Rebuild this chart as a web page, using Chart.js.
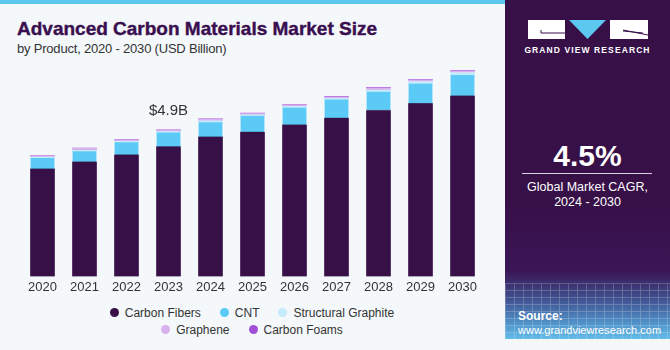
<!DOCTYPE html>
<html>
<head>
<meta charset="utf-8">
<script src="https://cdn.jsdelivr.net/npm/chart.js@4/dist/chart.umd.min.js"></script>
<style>
  html, body { margin:0; padding:0; }
  body { width:670px; height:350px; position:relative; overflow:hidden; background:#f4f8fb; font-family:"Liberation Sans", Arial, sans-serif; }
  #topstrip { position:absolute; left:0; top:0; width:506px; height:4px; background:#5cc7ef; }
  #title { position:absolute; left:17px; top:18px; font-family:"Liberation Sans", Arial, sans-serif; font-weight:bold; font-size:19px; color:#3a0f4f; white-space:nowrap; -webkit-text-stroke:0.4px #3a0f4f; }
  #subtitle { position:absolute; left:17px; top:41px; font-size:13px; letter-spacing:-0.2px; color:#333; white-space:nowrap; }
  #chartwrap { position:absolute; left:0; top:42px; width:505px; height:256px; }
  #legend { position:absolute; left:102px; top:305px; width:300px; display:flex; flex-wrap:wrap; justify-content:center; row-gap:2px; column-gap:19px; font-size:12px; color:#333; }
  .li { display:flex; align-items:center; height:15px; white-space:nowrap; }
  .dot { width:9px; height:9px; border-radius:50%; margin-right:6px; }
  #panel { position:absolute; left:505px; top:0; width:165px; height:339px; background:linear-gradient(to bottom, #381048 0%, #381048 60%, #3a1656 80%, #3f4f8e 88%, #4f8fc6 95%, #62bde8 100%); overflow:hidden; }
  #grid { position:absolute; left:0; top:283px; width:165px; height:56px; opacity:0.25;
    background-image: repeating-linear-gradient(to right, rgba(255,255,255,0.8) 0 1px, transparent 1px 9px), repeating-linear-gradient(to bottom, rgba(255,255,255,0.8) 0 1px, transparent 1px 7px); }
  #gvrtxt { position:absolute; left:0; width:165px; top:45px; text-align:center; color:#fff; font-weight:bold; font-size:8.5px; letter-spacing:1.1px; }
  #cagr { position:absolute; left:0; width:165px; top:139px; text-align:center; color:#fff; font-weight:bold; font-size:30px; }
  #line { position:absolute; left:17px; width:130px; top:173px; height:1px; background:#d8d0e0; }
  #cagrtxt { position:absolute; left:0; width:165px; top:180px; text-align:center; color:#fff; font-size:12.5px; line-height:15px; }
  #source { position:absolute; left:13px; top:309px; color:#fff; font-size:11px; line-height:14px; }
</style>
</head>
<body>
<div id="topstrip"></div>
<div id="title">Advanced Carbon Materials Market Size</div>
<div id="subtitle">by Product, 2020 - 2030 (USD Billion)</div>
<div id="chartwrap"><canvas id="c" width="505" height="256"></canvas></div>
<div id="legend"></div>
<div id="panel">
  <svg width="165" height="45" style="position:absolute;left:0;top:0">
    <rect x="23" y="20" width="37" height="19" fill="#fff"/>
    <path d="M36 30 L36 33 L60 33" stroke="#381048" stroke-width="1" fill="none"/>
    <polygon points="64,20 101,20 82.5,39" fill="#5cc7ef"/>
    <rect x="105" y="20" width="38" height="19" fill="#fff"/>
    <path d="M118 30 L143 35 M118 31 L138 33" stroke="#381048" stroke-width="1" fill="none"/>
  </svg>
  <div id="gvrtxt">GRAND VIEW RESEARCH</div>
  <div id="cagr">4.5%</div>
  <div id="line"></div>
  <div id="cagrtxt">Global Market CAGR,<br>2024 - 2030</div>
  <div id="grid"></div>
  <div id="source"><b style="font-size:12px">Source:</b><br>www.grandviewresearch.com</div>
</div>
<script>
const years = ['2020','2021','2022','2023','2024','2025','2026','2027','2028','2029','2030'];
const carbonFibers       = [3.59, 3.82, 4.06, 4.33, 4.66, 4.82, 5.06, 5.29, 5.55, 5.78, 6.03];
const cnt                = [0.37, 0.37, 0.43, 0.48, 0.50, 0.55, 0.59, 0.63, 0.63, 0.67, 0.71];
const structuralGraphite = [0.03, 0.03, 0.03, 0.03, 0.04, 0.03, 0.04, 0.04, 0.05, 0.07, 0.08];
const graphene           = [0.05, 0.06, 0.05, 0.05, 0.06, 0.05, 0.05, 0.05, 0.08, 0.05, 0.05];
const carbonFoams        = [0.01, 0.01, 0.01, 0.01, 0.01, 0.01, 0.01, 0.01, 0.01, 0.01, 0.01];
const annotatedYear = '2023';
const annotationText = '$4.9B';

const series = [
  {label:'Carbon Fibers', data:carbonFibers, color:'#381048'},
  {label:'CNT', data:cnt, color:'#5bcaf6'},
  {label:'Structural Graphite', data:structuralGraphite, color:'#c6ebfa'},
  {label:'Graphene', data:graphene, color:'#d8b0ee'},
  {label:'Carbon Foams', data:carbonFoams, color:'#a24fd8'}
];

const legend = document.getElementById('legend');
series.forEach(s => {
  const d = document.createElement('div'); d.className='li';
  d.innerHTML = '<span class="dot" style="background:'+s.color+'"></span>'+s.label;
  legend.appendChild(d);
});

const annotPlugin = {
  id:'annot',
  afterDatasetsDraw(chart){
    const idx = years.indexOf(annotatedYear);
    let total = 0;
    chart.data.datasets.forEach(ds => total += ds.data[idx]);
    const x = chart.scales.x.getPixelForValue(idx);
    const y = chart.scales.y.getPixelForValue(total);
    const ctx = chart.ctx;
    ctx.save();
    ctx.font = '15px "Liberation Sans", Arial, sans-serif';
    ctx.fillStyle = '#333';
    ctx.textAlign = 'center';
    ctx.textBaseline = 'alphabetic';
    ctx.fillText(annotationText, x, y - 15);
    ctx.restore();
  }
};

new Chart(document.getElementById('c'), {
  type:'bar',
  data:{
    labels:years,
    datasets:series.map((s,i) => ({
      label:s.label, data:s.data, backgroundColor:s.color,
      borderWidth: i===1 ? {top:0,left:0,right:0,bottom:1} : 0,
      borderColor:'#4a86a8', borderSkipped:false,
      barThickness:24
    }))
  },
  options:{
    responsive:false, animation:false,
    layout:{padding:{left:21.5,right:21.5,top:0,bottom:0}},
    plugins:{legend:{display:false}, tooltip:{enabled:false}},
    scales:{
      x:{stacked:true, grid:{display:false, drawTicks:false}, border:{display:false},
         ticks:{color:'#333', font:{size:13, family:'"Liberation Sans", Arial, sans-serif'}, padding:3}},
      y:{stacked:true, display:false, min:0, max:7.84}
    }
  },
  plugins:[annotPlugin]
});
</script>
</body>
</html>
